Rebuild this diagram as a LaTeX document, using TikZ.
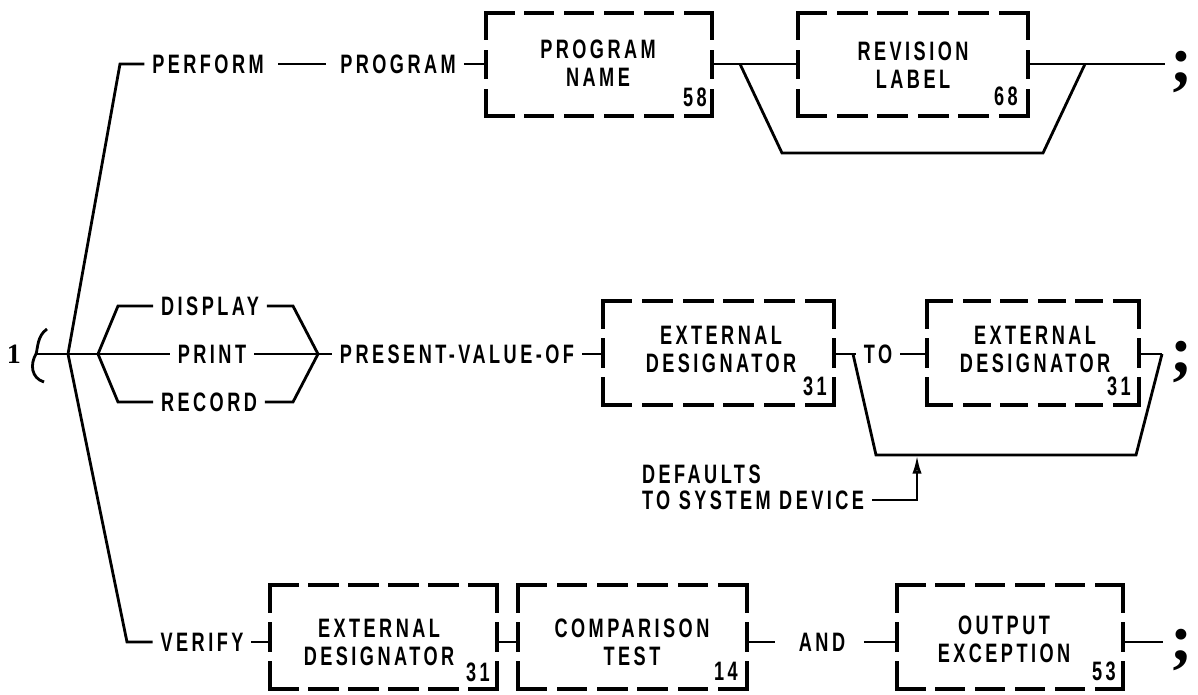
\documentclass[tikz,border=0pt]{standalone}
\usepackage{fontspec}
\setmainfont{Liberation Sans}[FakeStretch=0.68, LetterSpace=13]
\newfontfamily\serifone{Liberation Serif}
\usetikzlibrary{fit,arrows.meta}

\tikzset{
  conn/.style={line width=2.1pt},
  lbl/.style={font=\fontsize{20}{21}\selectfont\bfseries, inner xsep=6pt, inner ysep=0pt, outer sep=0pt},
  boxtxt/.style={font=\fontsize{20}{21}\selectfont\bfseries, align=center, inner sep=0pt},
  num/.style={font=\fontsize{20}{20}\selectfont\bfseries, inner sep=0pt},
  semi/.style={font=\serifone\fontsize{50}{50}\selectfont\bfseries, inner sep=0pt},
  boxline/.style={line width=2.5pt, line cap=rect},
}

\newcommand\dbox[6]{%
  \node[fit={(#2,#3) (#4,#5)}, inner sep=0pt, outer sep=0pt] (#1) {};
  \pgfmathsetmacro\dashh{(((#4-#2)-(#6-1)*13)/#6)*0.75}
  \pgfmathsetmacro\dashv{(((#5-#3)-2*13)/3)*0.75}
  \draw[boxline, dash pattern=on \dashh pt off 9.75pt] (#1.north west) -- (#1.north east) (#1.south west) -- (#1.south east);
  \draw[boxline, dash pattern=on \dashv pt off 9.75pt] (#1.north west) -- (#1.south west) (#1.north east) -- (#1.south east);
}

\begin{document}
\begin{tikzpicture}[x=0.75pt,y=-0.75pt]
\path[fill=white, use as bounding box] (0,0) rectangle (1198,695);

% ---------- boxes ----------
\dbox{pname}{486}{13}{712}{116}{6}
\dbox{rev}{798}{13}{1028}{116}{6}
\dbox{ba}{603}{301}{834}{405}{6}
\dbox{bb}{927}{301}{1139}{405}{6}
\dbox{bc}{270}{585}{497}{689}{6}
\dbox{cmp}{518}{585}{747}{689}{6}
\dbox{out}{897}{585}{1123}{689}{6}

% box texts
\node[boxtxt] (pnamet) at (598,63) {PROGRAM\\NAME};
\node[num] (n58) at (695,97) {58};
\node[boxtxt] (revt) at (913,65) {REVISION\\LABEL};
\node[num] (n68) at (1006,96) {68};
\node[boxtxt] (bat) at (721,349) {EXTERNAL\\DESIGNATOR};
\node[num] (n31a) at (815,386) {31};
\node[boxtxt] (bbt) at (1035,349) {EXTERNAL\\DESIGNATOR};
\node[num] (n31b) at (1119,386) {31};
\node[boxtxt] (bct) at (379,642) {EXTERNAL\\DESIGNATOR};
\node[num] (n31c) at (478,672) {31};
\node[boxtxt] (cmpt) at (632,642) {COMPARISON\\TEST};
\node[num] (n14) at (726,671) {14};
\node[boxtxt] (outt) at (1004,639) {OUTPUT\\EXCEPTION};
\node[num] (n53) at (1104,671) {53};

% ---------- labels ----------
\node[font=\serifone\bfseries\fontsize{21}{21}\selectfont, inner sep=0pt] (one) at (14,354) {1};
\node[lbl] (perform) at (208,64) {PERFORM};
\node[lbl] (program) at (398,64) {PROGRAM};
\node[lbl] (display) at (210,306) {DISPLAY};
\node[lbl] (print) at (212,354) {PRINT};
\node[lbl] (record) at (209,402) {RECORD};
\node[lbl] (present) at (457,354) {PRESENT-VALUE-OF};
\node[lbl] (to) at (878,354) {TO};
\node[lbl, anchor=west] (defaults) at (634,474) {DEFAULTS};
\node[lbl, anchor=west] (tosys) at (634,500) {TO SYSTEM DEVICE};
\node[lbl] (verify) at (202,642) {VERIFY};
\node[lbl] (and) at (822,642) {AND};

\node[semi] (sc1) at (1182,72) {;};
\node[semi] (sc2) at (1182,362) {;};
\node[semi] (sc3) at (1182,650) {;};

% ---------- coordinates ----------
\coordinate (ctop) at (120,64);
\coordinate (cbot) at (127,642);
\coordinate (jt) at (68,354);
\coordinate (jb) at (98,354);
\coordinate (dl) at (118,306);
\coordinate (rl) at (118,402);
\coordinate (dr) at (293,306);
\coordinate (rr) at (293,402);
\coordinate (jm) at (318,354);
\coordinate (bs) at (36,354);
\coordinate (tend) at (1165,64);
\coordinate (tb1) at (740,64);
\coordinate (tb2) at (782,153);
\coordinate (tb3) at (1043,153);
\coordinate (tb4) at (1085,64);
\coordinate (mb1) at (853,354);
\coordinate (mb2) at (876,455);
\coordinate (mb3) at (1136,455);
\coordinate (mb4) at (1162,354);
\coordinate (ah) at (917,455);
\coordinate (bend) at (1163,642);

% ---------- connectors ----------
% brace
\draw[conn] (47,329) .. controls (37,336) and (38,348) .. (bs) .. controls (30,364) and (31,378) .. (44,382);
\draw[conn] (bs) -- (jt) -- (jb) -- (print.west);
% trunk
\draw[conn] (perform.west) -- (ctop) -- (jt) -- (cbot) -- (verify.west);
% inner brace
\draw[conn] (display.west) -- (dl) -- (jb) -- (rl) -- (record.west);
\draw[conn] (display.east) -- (dr) -- (jm) -- (rr) -- (record.east);
\draw[conn] (print.east) -- (jm) -- (present.west);
% top row
\draw[conn, shorten <=5pt, shorten >=5pt] (perform.east) -- (program.west);
\draw[conn] (program.east) -- (program.east -| pname.west);
\draw[conn] (pname.east |- program) -- (rev.west |- program);
\draw[conn] (rev.east |- program) -- (tend);
\draw[conn] (tb1) -- (tb2) -- (tb3) -- (tb4);
% middle row
\draw[conn] (present.east) -- (present.east -| ba.west);
\draw[conn] (ba.east |- to) -- (to.west);
\draw[conn] (to.east) -- (to.east -| bb.west);
\draw[conn] (bb.east |- to) -- (mb4);
\draw[conn] (mb1) -- (mb2) -- (mb3) -- (mb4);
\draw[conn, -{Latex[open, length=14pt, width=7pt]}] (tosys.east) -- (tosys.east -| ah) -- (ah);
% bottom row
\draw[conn] (verify.east) -- (verify.east -| bc.west);
\draw[conn] (bc.east |- verify) -- (cmp.west |- verify);
\draw[conn, shorten >=12pt] (cmp.east |- verify) -- (and.west);
\draw[conn, shorten <=8pt] (and.east) -- (and.east -| out.west);
\draw[conn] (out.east |- verify) -- (bend);
\end{tikzpicture}
\end{document}
